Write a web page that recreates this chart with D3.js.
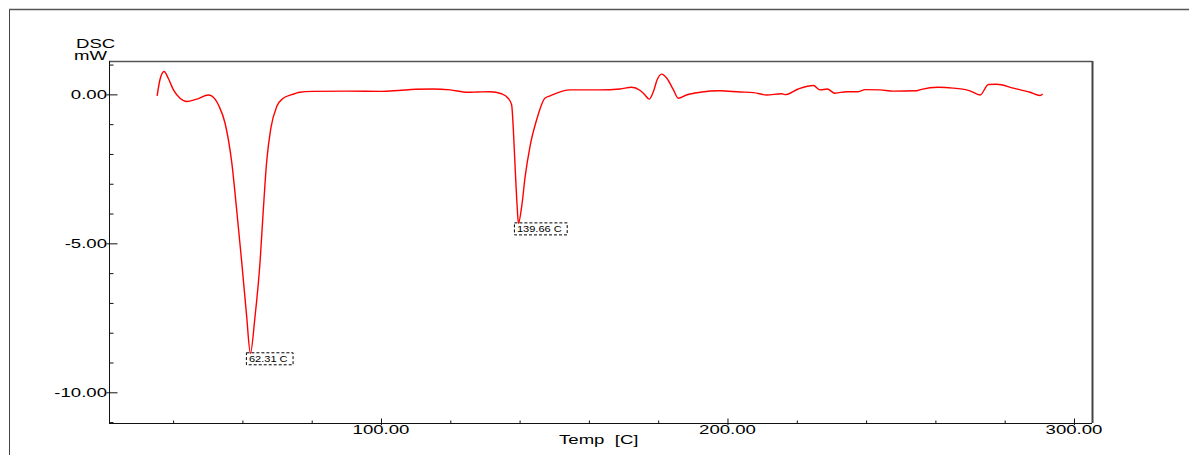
<!DOCTYPE html>
<html>
<head>
<meta charset="utf-8">
<script src="https://cdn.jsdelivr.net/npm/d3@7"></script>
<style>
  html, body { margin: 0; padding: 0; background: #fff; }
  svg { display: block; }
  text { font-family: "Liberation Sans", Arial, sans-serif; fill: #000; }
</style>
</head>
<body>
<svg id="chart" width="1189" height="455"></svg>
<script>
// DSC scan: temperature (C) and heat flow (mW)
const temps = [35.4, 36.2, 37.4, 38.6, 40.1, 42.0, 43.9, 46.8, 50.2, 51.1, 53.2, 55.0,
  56.9, 58.4, 59.8, 61.2, 62.31, 63.6, 65.1, 66.0, 67.0, 68.2, 69.9, 71.8, 74.0, 76.6,
  80, 90, 100, 105, 110, 115, 120, 125, 128, 131.5, 134.8, 136.7, 137.7, 138.2, 138.7,
  139.3, 139.66, 140.6, 141.6, 143.0, 144.9, 147.3, 148.8, 154.6, 163, 169, 172.3, 174.8,
  176.2, 177.4, 178.6, 179.7, 181.0, 182.5, 184.4, 185.8, 188.2, 192.1, 197.8, 203.6,
  207.5, 211.3, 215.6, 216.6, 220.4, 224.8, 226.7, 228.8, 231.0, 234.4, 237.7, 239.7,
  244.0, 247.8, 254.6, 256.0, 260.8, 265.2, 270.0, 272.9, 275.3, 277.7, 282.5, 287.3,
  290.2, 290.97];
const dsc = [-0.05, 0.49, 0.77, 0.54, 0.15, -0.13, -0.24, -0.16, -0.02, -0.05, -0.38, -0.97,
  -2.26, -3.94, -5.62, -7.41, -8.69, -7.51, -5.62, -3.94, -2.26, -1.14, -0.41, -0.13, -0.02, 0.07,
  0.10, 0.11, 0.10, 0.13, 0.17, 0.18, 0.15, 0.07, 0.08, 0.09, 0.02, -0.13, -0.35, -1.19, -2.42,
  -3.77, -4.33, -3.77, -2.76, -1.75, -0.86, -0.13, -0.05, 0.15, 0.15, 0.18, 0.24, 0.13,
  -0.02, -0.16, 0.09, 0.49, 0.68, 0.54, 0.15, -0.13, -0.02, 0.07, 0.12, 0.08,
  0.06, -0.02, 0.02, -0.01, 0.18, 0.30, 0.15, 0.18, 0.04, 0.09, 0.09, 0.16,
  0.15, 0.11, 0.12, 0.17, 0.24, 0.21, 0.12, -0.02, 0.33, 0.34, 0.21, 0.07,
  -0.04, 0.01];

// Peak annotations
const peakTemps = [62.31, 139.66];
const peakLabels = ["62.31 C", "139.66 C"];

// Axis ticks
const xMajorTicks = [100, 200, 300];
const xMajorLabels = ["100.00", "200.00", "300.00"];
const xMinorTicks = [40, 60, 80, 120, 140, 160, 180, 220, 240, 260, 280];
const yMajorTicks = [0, -5, -10];
const yMajorLabels = ["0.00", "-5.00", "-10.00"];
const yMinorTicks = [1, -1, -2, -3, -4, -6, -7, -8, -9, -11];

const svg = d3.select("#chart");
const plot = { left: 109, top: 61, right: 1092, bottom: 423 };

const x = d3.scaleLinear().domain([21.5, 305.2]).range([plot.left, plot.right]);
const y = d3.scaleLinear().domain([-11.03, 1.12]).range([plot.bottom, plot.top]);

const STRETCH = 1.55;

// Outer frame
svg.append("line").attr("x1", 9.5).attr("x2", 9.5).attr("y1", 9).attr("y2", 455)
  .attr("stroke", "#444").attr("stroke-width", 1);
svg.append("line").attr("x1", 9).attr("x2", 1189).attr("y1", 9.5).attr("y2", 9.5)
  .attr("stroke", "#555").attr("stroke-width", 1.3);

// Plot box: top and right edges
svg.append("line").attr("x1", plot.left).attr("x2", plot.right).attr("y1", plot.top + 0.5).attr("y2", plot.top + 0.5)
  .attr("stroke", "#555").attr("stroke-width", 1.3);
svg.append("line").attr("x1", plot.right + 0.5).attr("x2", plot.right + 0.5).attr("y1", plot.top).attr("y2", plot.bottom)
  .attr("stroke", "#444").attr("stroke-width", 2);

// Y axis
const yAxisG = svg.append("g").attr("transform", `translate(${plot.left + 0.5},0)`);
yAxisG.append("g").call(d3.axisLeft(y).tickValues(yMinorTicks).tickSize(-4).tickFormat(""));
yAxisG.append("g").call(d3.axisLeft(y).tickValues(yMajorTicks).tickSize(-8).tickFormat(""))
  .selectAll(".tick line").attr("x1", -3);
yAxisG.selectAll(".domain").remove();
yAxisG.selectAll("line").attr("stroke", "#111");
yAxisG.append("line").attr("y1", plot.top).attr("y2", plot.bottom).attr("stroke", "#111");

// X axis
const xAxisG = svg.append("g").attr("transform", `translate(0,${plot.bottom + 0.5})`);
xAxisG.append("g").call(d3.axisBottom(x).tickValues(xMinorTicks).tickSize(-3).tickFormat(""));
xAxisG.append("g").call(d3.axisBottom(x).tickValues(xMajorTicks).tickSize(-5).tickFormat(""))
  .selectAll(".tick line").attr("y1", 1.5);
xAxisG.selectAll(".domain").remove();
xAxisG.selectAll("line").attr("stroke", "#111");
xAxisG.append("line").attr("x1", plot.left).attr("x2", plot.right).attr("stroke", "#111");

// Stretched axis text
function wideText(px, py, str, anchor, size) {
  return svg.append("text")
    .attr("transform", `translate(${px},${py}) scale(${STRETCH},1)`)
    .attr("text-anchor", anchor)
    .style("font-size", size + "px")
    .style("white-space", "pre")
    .attr("xml:space", "preserve")
    .text(str);
}

yMajorTicks.forEach((v, i) => wideText(107, y(v) + 4.3, yMajorLabels[i], "end", 12));
xMajorTicks.forEach((v, i) => wideText(x(v), 433.5, xMajorLabels[i], "middle", 12));

wideText(76, 47.5, "DSC", "start", 12);
wideText(74, 59.5, "mW", "start", 12);
wideText(559, 444, "Temp  [C]", "start", 12);

// Curve
const pts = temps.map((t, i) => [t, dsc[i]]);
const line = d3.line().x(d => x(d[0])).y(d => y(d[1])).curve(d3.curveMonotoneX);
svg.append("path").datum(pts)
  .attr("d", line)
  .attr("fill", "none")
  .attr("stroke", "#ff0000")
  .attr("stroke-width", 1.4)
  .attr("stroke-linejoin", "round");

// Peak annotations
peakTemps.forEach((t, i) => {
  const v = dsc[temps.indexOf(t)];
  const px = x(t), py = y(v);
  const g = svg.append("g").attr("transform", `translate(${px - 4.5},${py - 1})`);
  const txt = g.append("text")
    .attr("transform", `translate(3,9.3) scale(1.3,1)`)
    .style("font-size", "8.5px")
    .text(peakLabels[i]);
  const w = txt.node().getBBox().width * 1.3 + 8;
  g.insert("rect", "text")
    .attr("x", 0.5).attr("y", 0.5)
    .attr("width", w).attr("height", 12)
    .attr("fill", "none")
    .attr("stroke", "#000")
    .attr("stroke-width", 1)
    .attr("stroke-dasharray", "3,2");
});
</script>
</body>
</html>
